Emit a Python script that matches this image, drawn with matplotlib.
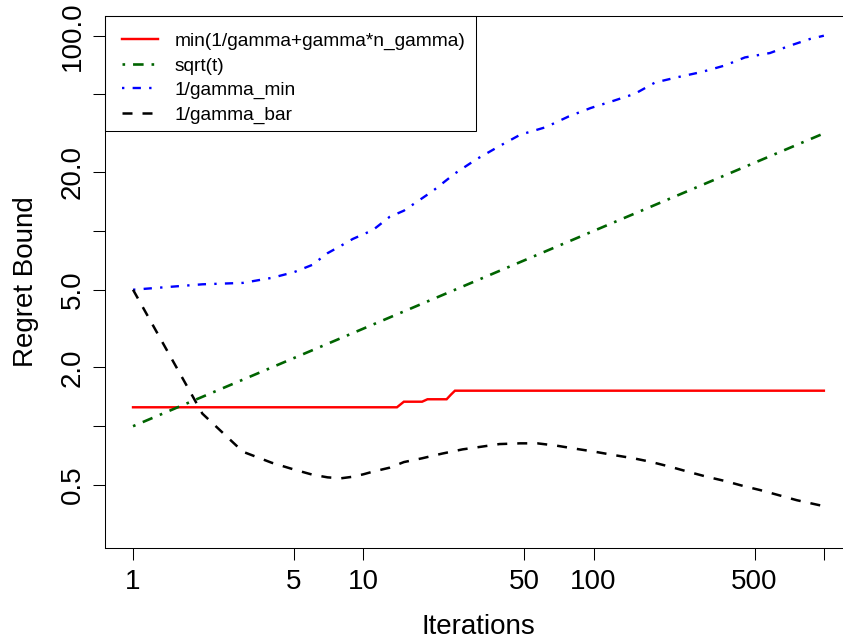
import matplotlib
matplotlib.use("Agg")
import matplotlib.pyplot as plt
from matplotlib.patches import Rectangle

plt.rcParams['font.family'] = ['Liberation Sans', 'DejaVu Sans']

# ---- data ----
red_t = [1, 14, 15, 18, 19, 23, 24, 25, 1000]
red_y = [1.25, 1.25, 1.335, 1.335, 1.374, 1.374, 1.45, 1.52, 1.52]

green_t = [1, 10, 100, 1000]
green_y = [1.0, 3.16, 10.0, 31.6]

blue_t = [1, 2, 3, 4, 5, 6, 7, 8, 9, 11, 13, 15, 20, 25, 31, 39, 48, 62, 78, 97,
          122, 151, 185, 233, 295, 372, 454, 583, 712, 870, 1000]
blue_y = [5.0, 5.33, 5.42, 5.75, 6.15, 6.7, 7.7, 8.4, 9.1, 10.1, 11.8, 12.7, 16.0,
          19.7, 23.3, 27.2, 31.1, 34.0, 38.6, 42.6, 46.4, 50.4, 57.6, 61.4, 65.2,
          70.4, 77.4, 81.5, 88.9, 96.2, 100.0]

black_t = [1, 2, 3, 4, 5, 6, 7, 8, 9, 10, 11, 13, 15, 18, 22, 27, 33, 39, 48, 57,
           69, 85, 100, 122, 149, 176, 215, 258, 310, 372, 447, 528, 634, 762, 946, 1000]
black_y = [5.0, 1.16, 0.74, 0.65, 0.60, 0.565, 0.547, 0.541, 0.551, 0.567, 0.585,
           0.613, 0.655, 0.685, 0.724, 0.761, 0.787, 0.81, 0.817, 0.817, 0.795,
           0.764, 0.742, 0.712, 0.685, 0.658, 0.62, 0.584, 0.551, 0.524, 0.494,
           0.471, 0.444, 0.418, 0.395, 0.39]

labels = ["min(1/gamma+gamma*n_gamma)", "sqrt(t)", "1/gamma_min", "1/gamma_bar"]

x_ticks = [1, 5, 10, 50, 100, 500, 1000]
x_ticklabels = ["1", "5", "10", "50", "100", "500", ""]
y_ticks = [0.5, 1, 2, 5, 10, 20, 50, 100]
y_ticklabels = ["0.5", "", "2.0", "5.0", "", "20.0", "", "100.0"]

# ---- figure ----
W, H = 843, 644
fig = plt.figure(figsize=(W / 100, H / 100), dpi=100)
ax_left, ax_right, ax_top, ax_bottom = 105.4, 851.5, 16.0, 548.0
ax = fig.add_axes([ax_left / W, 1 - ax_bottom / H,
                   (ax_right - ax_left) / W, (ax_bottom - ax_top) / H])

ax.plot(red_t, red_y, color="#FF0000", lw=1.75, solid_joinstyle="miter", label=labels[0])
ax.plot(green_t, green_y, color="#006400", lw=1.9,
        linestyle=(0, (1, 3, 4, 3)), label=labels[1])
ax.plot(blue_t, blue_y, color="#0000FF", lw=1.7,
        linestyle=(0, (1, 3.5, 3.5, 3.5)), label=labels[2])
ax.plot(black_t, black_y, color="black", lw=1.8,
        linestyle=(0, (4, 4)), label=labels[3])

ax.set_xscale("log")
ax.set_yscale("log")
ax.set_xlim(10 ** -0.12, 10 ** 3.12)
ax.set_ylim(10 ** -0.6238, 10 ** 2.1009)

ax.xaxis.set_minor_locator(matplotlib.ticker.NullLocator())
ax.yaxis.set_minor_locator(matplotlib.ticker.NullLocator())
ax.set_xticks(x_ticks)
ax.set_xticklabels(x_ticklabels)
ax.set_yticks(y_ticks)
ax.set_yticklabels(y_ticklabels, rotation=90, va="center")

ax.tick_params(axis="both", which="major", length=8.3, width=0.75,
               direction="out", labelsize=20, color="black")
ax.tick_params(axis="x", pad=7.0)
ax.tick_params(axis="y", pad=6.0)

for side in ["top", "left", "bottom", "right"]:
    ax.spines[side].set_linewidth(0.75)
    ax.spines[side].set_color("black")

ax.set_xlabel("Iterations", fontsize=20)
ax.xaxis.set_label_coords(0.5, -(614.5 - ax_bottom) / (ax_bottom - ax_top))
ax.set_ylabel("Regret Bound", fontsize=20)
ax.yaxis.set_label_coords((39.2 - ax_left) / (ax_right - ax_left), 0.5)

leg = ax.legend(loc="upper left",
                bbox_to_anchor=((122 - ax_left) / (ax_right - ax_left),
                                1 - (32.5 - ax_top) / (ax_bottom - ax_top)),
                frameon=False, fontsize=13.8, borderpad=0, borderaxespad=0,
                handlelength=1.875, handletextpad=0.885, labelspacing=0.37)

# legend box
bx1 = (476 - ax_left) / (ax_right - ax_left)
by0 = (ax_bottom - 131) / (ax_bottom - ax_top)
ax.add_patch(Rectangle((0, by0), bx1, 1 - by0, transform=ax.transAxes,
                       fill=False, lw=0.75, edgecolor="black", clip_on=False, zorder=5))

fig.savefig("out.png", dpi=100)
